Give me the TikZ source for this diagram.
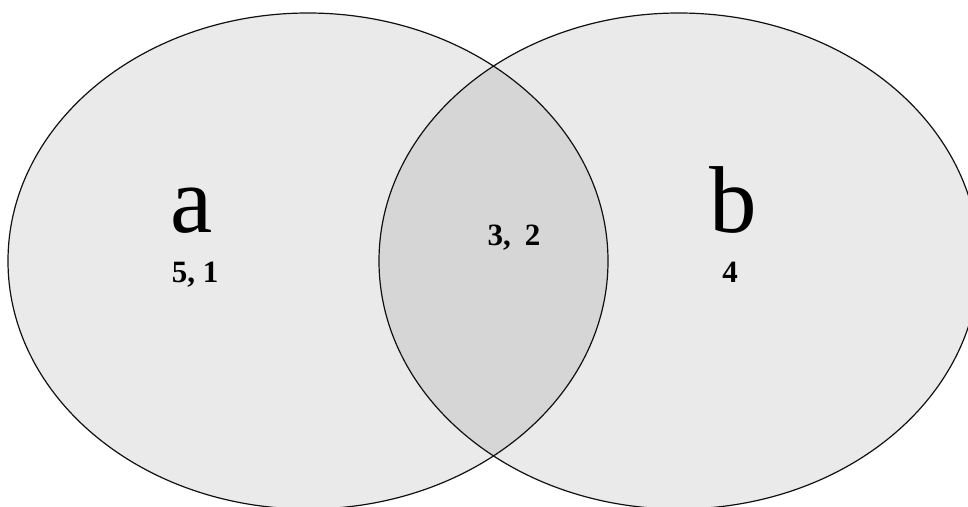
\documentclass[tikz,border=0pt]{standalone}
\usepackage{fontspec}
\setmainfont{Liberation Serif}
\usetikzlibrary{positioning}
\definecolor{setfill}{HTML}{EAEAEA}
\definecolor{meetfill}{HTML}{D6D6D6}
\definecolor{outline}{HTML}{111111}

\begin{document}
\begin{tikzpicture}[x=1pt,y=-1pt]
  \useasboundingbox (0,0) rectangle (968,506);
  \clip (0,0) rectangle (968,506);
  % the two sets
  \fill[setfill] (308,261) ellipse [x radius=300, y radius=248];
  \fill[setfill] (679,261) ellipse [x radius=300, y radius=248];
  \begin{scope}
    \clip (308,261) ellipse [x radius=300, y radius=248];
    \fill[meetfill] (679,261) ellipse [x radius=300, y radius=248];
  \end{scope}
  \draw[outline,line width=1.2pt] (308,261) ellipse [x radius=300, y radius=248];
  \draw[outline,line width=1.2pt] (679,261) ellipse [x radius=300, y radius=248];
  % labels
  \node[anchor=base,inner sep=0pt,font=\fontsize{95}{95}\selectfont] (seta) at (192,232) {a};
  \node[anchor=base,inner sep=0pt,font=\fontsize{95}{95}\selectfont] (setb) at (733,232) {b};
  \node[anchor=base,inner sep=0pt,font=\fontsize{31}{31}\selectfont\bfseries] (onlya) at (195,282) {5, 1};
  \node[anchor=base,inner sep=0pt,font=\fontsize{31}{31}\selectfont\bfseries] (both) at (514,245) {3,\hspace{0.45em}2};
  \node[anchor=base,inner sep=0pt,font=\fontsize{31}{31}\selectfont\bfseries] (onlyb) at (730,282) {4};
\end{tikzpicture}
\end{document}
